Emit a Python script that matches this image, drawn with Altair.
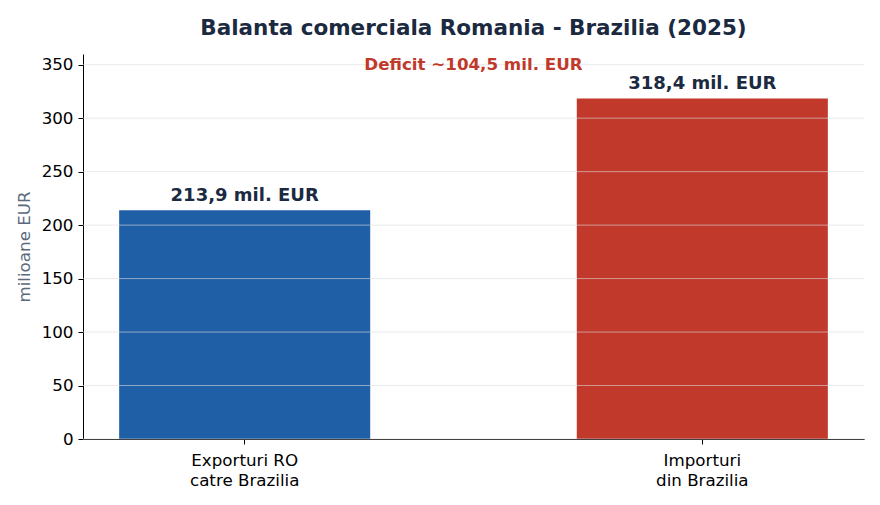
import altair as alt
import pandas as pd

categories = ["Exporturi RO\ncatre Brazilia", "Importuri\ndin Brazilia"]
values = [213.9, 318.4]
value_labels = ["213,9 mil. EUR", "318,4 mil. EUR"]
colors = ["#1f5fa6", "#c0392b"]
deficit_text = ["Deficit ~104,5 mil. EUR"]
deficit_y = [350]
y_ticks = [0, 50, 100, 150, 200, 250, 300, 350]

df = pd.DataFrame({"cat": categories, "val": values, "lab": value_labels, "col": colors})
ddf = pd.DataFrame({"t": deficit_text, "y": deficit_y})
gdf = pd.DataFrame({"g": y_ticks})

xscale = alt.Scale(domain=categories, paddingInner=0.4514, paddingOuter=0.079)
yscale = alt.Scale(domain=[0, 360], nice=False)

FONT = "DejaVu Sans"

bars = alt.Chart(df).mark_bar().encode(
    x=alt.X("cat:N", scale=xscale, sort=categories,
            axis=alt.Axis(title=None, labelAngle=0, labelExpr="split(datum.label, '\\n')",
                          labelFont=FONT, labelFontSize=16.7, labelColor="#000000",
                          domainColor="#000000", tickColor="#000000", tickSize=5,
                          labelPadding=8, labelLineHeight=20, grid=False)),
    y=alt.Y("val:Q", scale=yscale,
            axis=alt.Axis(title="milioane EUR", values=y_ticks, grid=False,
                          titleFont=FONT, titleFontSize=16.7, titleFontWeight="normal",
                          titleColor="#5a6a7d", titlePadding=8,
                          labelFont=FONT, labelFontSize=16.7, labelColor="#000000",
                          labelPadding=5,
                          domainColor="#000000", tickColor="#000000", tickSize=5)),
    color=alt.Color("col:N", scale=None),
)

grid = alt.Chart(gdf).mark_rule(color="#dcdcdc", opacity=0.6, strokeWidth=1).encode(
    y=alt.Y("g:Q", scale=yscale),
)

labels = alt.Chart(df).mark_text(baseline="bottom", dy=-5, font=FONT, fontSize=18,
                                 fontWeight="bold", color="#1b2a41").encode(
    x=alt.X("cat:N", scale=xscale, sort=categories),
    y=alt.Y("val:Q", scale=yscale),
    text="lab:N",
)

deficit = alt.Chart(ddf).mark_text(font=FONT, fontSize=16.7, fontWeight="bold",
                                   color="#c0392b", baseline="middle").encode(
    x=alt.value(390.5),
    y=alt.Y("y:Q", scale=yscale),
    text="t:N",
)

chart = alt.layer(bars, grid, labels, deficit).properties(
    width=781, height=385,
    view=alt.ViewBackground(stroke="transparent", strokeWidth=0),
    autosize=alt.AutoSizeParams(type="none"),
    padding={"left": 75, "top": 46, "right": 8, "bottom": 50},
    title=alt.TitleParams("Balanta comerciala Romania - Brazilia (2025)", font=FONT,
                          fontSize=21.5, fontWeight="bold", color="#1b2a41", anchor="middle",
                          offset=15),
).configure_view(stroke="transparent", strokeWidth=0).configure(background="white")

chart.save("out.html", embed_options={"renderer": "svg", "actions": False})
